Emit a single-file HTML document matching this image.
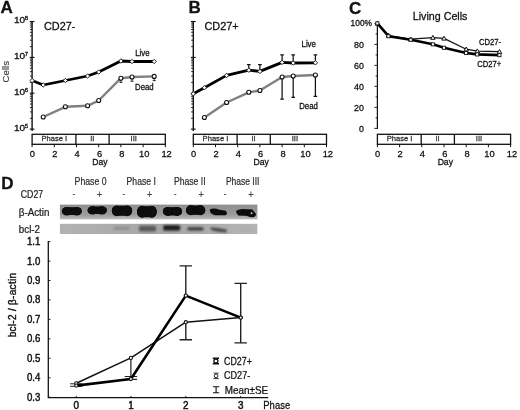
<!DOCTYPE html><html><head><meta charset="utf-8"><title>Figure</title>
<style>html,body{margin:0;padding:0;background:#fff}svg{display:block}text{font-family:"Liberation Sans",sans-serif}</style></head><body>
<svg width="520" height="410" viewBox="0 0 520 410">
<defs><filter id="b1" x="-20%" y="-50%" width="140%" height="200%"><feGaussianBlur stdDeviation="0.75"/></filter><filter id="b2" x="-20%" y="-50%" width="140%" height="200%"><feGaussianBlur stdDeviation="1.0"/></filter></defs>
<rect width="520" height="410" fill="#fff"/>
<text x="0.5" y="13.2" font-size="17" font-weight="bold" fill="#111" stroke="#111" stroke-width="0.28">A</text>
<text x="44" y="29.6" font-size="10.9" fill="#111" stroke="#111" stroke-width="0.28">CD27-</text>
<g stroke="#111" fill="none">
<line x1="32.1" y1="21" x2="32.1" y2="131" stroke-width="1.4"/>
<line x1="29.700000000000003" y1="129.1" x2="34.5" y2="129.1" stroke-width="1.1"/>
<line x1="29.900000000000002" y1="118.3" x2="32.1" y2="118.3" stroke-width="0.85"/>
<line x1="29.900000000000002" y1="111.9" x2="32.1" y2="111.9" stroke-width="0.85"/>
<line x1="29.900000000000002" y1="107.5" x2="32.1" y2="107.5" stroke-width="0.85"/>
<line x1="29.900000000000002" y1="104.0" x2="32.1" y2="104.0" stroke-width="0.85"/>
<line x1="29.900000000000002" y1="101.2" x2="32.1" y2="101.2" stroke-width="0.85"/>
<line x1="29.900000000000002" y1="98.8" x2="32.1" y2="98.8" stroke-width="0.85"/>
<line x1="29.900000000000002" y1="96.7" x2="32.1" y2="96.7" stroke-width="0.85"/>
<line x1="29.900000000000002" y1="94.8" x2="32.1" y2="94.8" stroke-width="0.85"/>
<line x1="29.700000000000003" y1="93.2" x2="34.5" y2="93.2" stroke-width="1.1"/>
<line x1="29.900000000000002" y1="82.4" x2="32.1" y2="82.4" stroke-width="0.85"/>
<line x1="29.900000000000002" y1="76.1" x2="32.1" y2="76.1" stroke-width="0.85"/>
<line x1="29.900000000000002" y1="71.6" x2="32.1" y2="71.6" stroke-width="0.85"/>
<line x1="29.900000000000002" y1="68.1" x2="32.1" y2="68.1" stroke-width="0.85"/>
<line x1="29.900000000000002" y1="65.3" x2="32.1" y2="65.3" stroke-width="0.85"/>
<line x1="29.900000000000002" y1="62.9" x2="32.1" y2="62.9" stroke-width="0.85"/>
<line x1="29.900000000000002" y1="60.8" x2="32.1" y2="60.8" stroke-width="0.85"/>
<line x1="29.900000000000002" y1="59.0" x2="32.1" y2="59.0" stroke-width="0.85"/>
<line x1="29.700000000000003" y1="57.4" x2="34.5" y2="57.4" stroke-width="1.1"/>
<line x1="29.900000000000002" y1="46.6" x2="32.1" y2="46.6" stroke-width="0.85"/>
<line x1="29.900000000000002" y1="40.2" x2="32.1" y2="40.2" stroke-width="0.85"/>
<line x1="29.900000000000002" y1="35.8" x2="32.1" y2="35.8" stroke-width="0.85"/>
<line x1="29.900000000000002" y1="32.3" x2="32.1" y2="32.3" stroke-width="0.85"/>
<line x1="29.900000000000002" y1="29.5" x2="32.1" y2="29.5" stroke-width="0.85"/>
<line x1="29.900000000000002" y1="27.1" x2="32.1" y2="27.1" stroke-width="0.85"/>
<line x1="29.900000000000002" y1="25.0" x2="32.1" y2="25.0" stroke-width="0.85"/>
<line x1="29.900000000000002" y1="23.1" x2="32.1" y2="23.1" stroke-width="0.85"/>
<line x1="29.700000000000003" y1="21.5" x2="34.5" y2="21.5" stroke-width="1.1"/>
</g>
<text transform="translate(25.200000000000003,131.0) scale(1.07,1)" font-size="9.4" text-anchor="end" fill="#111" stroke="#111" stroke-width="0.32">10</text>
<text x="24.8" y="127.8" font-size="6" text-anchor="start" fill="#111" stroke="#111" stroke-width="0.28">5</text>
<text transform="translate(25.200000000000003,95.1) scale(1.07,1)" font-size="9.4" text-anchor="end" fill="#111" stroke="#111" stroke-width="0.32">10</text>
<text x="24.8" y="91.9" font-size="6" text-anchor="start" fill="#111" stroke="#111" stroke-width="0.28">6</text>
<text transform="translate(25.200000000000003,59.2) scale(1.07,1)" font-size="9.4" text-anchor="end" fill="#111" stroke="#111" stroke-width="0.32">10</text>
<text x="24.8" y="56.1" font-size="6" text-anchor="start" fill="#111" stroke="#111" stroke-width="0.28">7</text>
<text transform="translate(25.200000000000003,23.4) scale(1.07,1)" font-size="9.4" text-anchor="end" fill="#111" stroke="#111" stroke-width="0.32">10</text>
<text x="24.8" y="20.2" font-size="6" text-anchor="start" fill="#111" stroke="#111" stroke-width="0.28">8</text>
<text transform="translate(8.6,71.7) rotate(-90)" font-size="9.7" text-anchor="middle" fill="#3a3a3a" stroke="#3a3a3a" stroke-width="0.12">Cells</text>
<path d="M120.9 78.2L120.9 82.4M119.4 82.4L122.4 82.4" stroke="#111" stroke-width="0.9" fill="none"/>
<path d="M132.0 77.0L132.0 81.2M130.5 81.2L133.5 81.2" stroke="#111" stroke-width="0.9" fill="none"/>
<path d="M154.2 76.4L154.2 80.6M152.7 80.6L155.7 80.6" stroke="#111" stroke-width="0.9" fill="none"/>
<polyline points="43.2,117.0 65.4,106.8 87.6,105.8 98.7,100.5 120.9,78.2 132.0,77.0 154.2,76.4" fill="none" stroke="#808080" stroke-width="2.4" stroke-linejoin="round"/>
<circle cx="43.2" cy="117.0" r="2.0" fill="#fff" stroke="#111" stroke-width="1.1"/>
<circle cx="65.4" cy="106.8" r="2.0" fill="#fff" stroke="#111" stroke-width="1.1"/>
<circle cx="87.6" cy="105.8" r="2.0" fill="#fff" stroke="#111" stroke-width="1.1"/>
<circle cx="98.7" cy="100.5" r="2.0" fill="#fff" stroke="#111" stroke-width="1.1"/>
<circle cx="120.9" cy="78.2" r="2.0" fill="#fff" stroke="#111" stroke-width="1.1"/>
<circle cx="132.0" cy="77.0" r="2.0" fill="#fff" stroke="#111" stroke-width="1.1"/>
<circle cx="154.2" cy="76.4" r="2.0" fill="#fff" stroke="#111" stroke-width="1.1"/>
<polyline points="32.1,80.5 43.2,85.0 65.4,80.5 87.6,76.0 98.7,72.0 120.9,61.0 132.0,61.5 154.2,61.5" fill="none" stroke="#000" stroke-width="2.8" stroke-linejoin="round"/>
<path d="M32.1 78.3L34.3 80.5L32.1 82.7L29.9 80.5Z" fill="#fff" stroke="#111" stroke-width="0.9"/>
<path d="M43.2 82.8L45.4 85.0L43.2 87.2L41.0 85.0Z" fill="#fff" stroke="#111" stroke-width="0.9"/>
<path d="M65.4 78.3L67.6 80.5L65.4 82.7L63.2 80.5Z" fill="#fff" stroke="#111" stroke-width="0.9"/>
<path d="M87.6 73.8L89.8 76.0L87.6 78.2L85.4 76.0Z" fill="#fff" stroke="#111" stroke-width="0.9"/>
<path d="M98.7 69.8L100.9 72.0L98.7 74.2L96.5 72.0Z" fill="#fff" stroke="#111" stroke-width="0.9"/>
<path d="M120.9 58.8L123.1 61.0L120.9 63.2L118.7 61.0Z" fill="#fff" stroke="#111" stroke-width="0.9"/>
<path d="M132.0 59.3L134.2 61.5L132.0 63.7L129.8 61.5Z" fill="#fff" stroke="#111" stroke-width="0.9"/>
<path d="M154.2 59.3L156.4 61.5L154.2 63.7L152.0 61.5Z" fill="#fff" stroke="#111" stroke-width="0.9"/>
<text transform="translate(135.2,56.3) scale(0.95,1)" font-size="8.3" text-anchor="start" fill="#111" stroke="#111" stroke-width="0.28">Live</text>
<text transform="translate(135,89.6) scale(0.94,1)" font-size="8.3" text-anchor="start" fill="#111" stroke="#111" stroke-width="0.28">Dead</text>
<g stroke="#111" stroke-width="1.3" fill="none">
<rect x="32.1" y="134.3" width="133.2" height="10" fill="#fff"/>
<line x1="75.9" y1="134.3" x2="75.9" y2="144.3"/>
<line x1="109.1" y1="134.3" x2="109.1" y2="144.3"/>
<line x1="32.1" y1="144.3" x2="32.1" y2="147.2" stroke-width="1"/>
<line x1="54.3" y1="144.3" x2="54.3" y2="147.2" stroke-width="1"/>
<line x1="76.5" y1="144.3" x2="76.5" y2="147.2" stroke-width="1"/>
<line x1="98.7" y1="144.3" x2="98.7" y2="147.2" stroke-width="1"/>
<line x1="120.9" y1="144.3" x2="120.9" y2="147.2" stroke-width="1"/>
<line x1="143.1" y1="144.3" x2="143.1" y2="147.2" stroke-width="1"/>
<line x1="165.3" y1="144.3" x2="165.3" y2="147.2" stroke-width="1"/>
</g>
<text x="32.4" y="157" font-size="9.3" text-anchor="middle" fill="#111" stroke="#111" stroke-width="0.28">0</text>
<text x="54.8" y="157" font-size="9.3" text-anchor="middle" fill="#111" stroke="#111" stroke-width="0.28">2</text>
<text x="77.1" y="157" font-size="9.3" text-anchor="middle" fill="#111" stroke="#111" stroke-width="0.28">4</text>
<text x="99.5" y="157" font-size="9.3" text-anchor="middle" fill="#111" stroke="#111" stroke-width="0.28">6</text>
<text x="121.8" y="157" font-size="9.3" text-anchor="middle" fill="#111" stroke="#111" stroke-width="0.28">8</text>
<text x="144.2" y="157" font-size="9.3" text-anchor="middle" fill="#111" stroke="#111" stroke-width="0.28">10</text>
<text x="166.6" y="157" font-size="9.3" text-anchor="middle" fill="#111" stroke="#111" stroke-width="0.28">12</text>
<text x="54.3" y="141.4" font-size="7.6" text-anchor="middle" fill="#333" stroke="#333" stroke-width="0.28">Phase I</text>
<text x="92.3" y="141.4" font-size="7.6" text-anchor="middle" fill="#333" stroke="#333" stroke-width="0.28">II</text>
<text x="133.7" y="141.4" font-size="7.6" text-anchor="middle" fill="#333" stroke="#333" stroke-width="0.28">III</text>
<text transform="translate(100.0,164.6) scale(0.93,1)" font-size="9.3" text-anchor="middle" fill="#111" stroke="#111" stroke-width="0.3">Day</text>
<text x="188.5" y="13.2" font-size="17" font-weight="bold" fill="#111" stroke="#111" stroke-width="0.28">B</text>
<text x="204.5" y="29.6" font-size="10.9" fill="#111" stroke="#111" stroke-width="0.28">CD27+</text>
<g stroke="#111" fill="none">
<line x1="193.3" y1="21" x2="193.3" y2="131" stroke-width="1.4"/>
<line x1="190.9" y1="129.1" x2="195.70000000000002" y2="129.1" stroke-width="1.1"/>
<line x1="191.10000000000002" y1="118.3" x2="193.3" y2="118.3" stroke-width="0.85"/>
<line x1="191.10000000000002" y1="111.9" x2="193.3" y2="111.9" stroke-width="0.85"/>
<line x1="191.10000000000002" y1="107.5" x2="193.3" y2="107.5" stroke-width="0.85"/>
<line x1="191.10000000000002" y1="104.0" x2="193.3" y2="104.0" stroke-width="0.85"/>
<line x1="191.10000000000002" y1="101.2" x2="193.3" y2="101.2" stroke-width="0.85"/>
<line x1="191.10000000000002" y1="98.8" x2="193.3" y2="98.8" stroke-width="0.85"/>
<line x1="191.10000000000002" y1="96.7" x2="193.3" y2="96.7" stroke-width="0.85"/>
<line x1="191.10000000000002" y1="94.8" x2="193.3" y2="94.8" stroke-width="0.85"/>
<line x1="190.9" y1="93.2" x2="195.70000000000002" y2="93.2" stroke-width="1.1"/>
<line x1="191.10000000000002" y1="82.4" x2="193.3" y2="82.4" stroke-width="0.85"/>
<line x1="191.10000000000002" y1="76.1" x2="193.3" y2="76.1" stroke-width="0.85"/>
<line x1="191.10000000000002" y1="71.6" x2="193.3" y2="71.6" stroke-width="0.85"/>
<line x1="191.10000000000002" y1="68.1" x2="193.3" y2="68.1" stroke-width="0.85"/>
<line x1="191.10000000000002" y1="65.3" x2="193.3" y2="65.3" stroke-width="0.85"/>
<line x1="191.10000000000002" y1="62.9" x2="193.3" y2="62.9" stroke-width="0.85"/>
<line x1="191.10000000000002" y1="60.8" x2="193.3" y2="60.8" stroke-width="0.85"/>
<line x1="191.10000000000002" y1="59.0" x2="193.3" y2="59.0" stroke-width="0.85"/>
<line x1="190.9" y1="57.4" x2="195.70000000000002" y2="57.4" stroke-width="1.1"/>
<line x1="191.10000000000002" y1="46.6" x2="193.3" y2="46.6" stroke-width="0.85"/>
<line x1="191.10000000000002" y1="40.2" x2="193.3" y2="40.2" stroke-width="0.85"/>
<line x1="191.10000000000002" y1="35.8" x2="193.3" y2="35.8" stroke-width="0.85"/>
<line x1="191.10000000000002" y1="32.3" x2="193.3" y2="32.3" stroke-width="0.85"/>
<line x1="191.10000000000002" y1="29.5" x2="193.3" y2="29.5" stroke-width="0.85"/>
<line x1="191.10000000000002" y1="27.1" x2="193.3" y2="27.1" stroke-width="0.85"/>
<line x1="191.10000000000002" y1="25.0" x2="193.3" y2="25.0" stroke-width="0.85"/>
<line x1="191.10000000000002" y1="23.1" x2="193.3" y2="23.1" stroke-width="0.85"/>
<line x1="190.9" y1="21.5" x2="195.70000000000002" y2="21.5" stroke-width="1.1"/>
</g>
<path d="M248.8 70.2L248.8 64.6M247.0 64.6L250.6 64.6" stroke="#111" stroke-width="1.25" fill="none"/>
<path d="M259.9 71.4L259.9 64.6M258.1 64.6L261.7 64.6" stroke="#111" stroke-width="1.25" fill="none"/>
<path d="M282.1 62.4L282.1 54.8M280.3 54.8L283.9 54.8" stroke="#111" stroke-width="1.25" fill="none"/>
<path d="M293.2 63.0L293.2 54.8M291.4 54.8L295.0 54.8" stroke="#111" stroke-width="1.25" fill="none"/>
<path d="M315.4 62.8L315.4 54.8M313.6 54.8L317.2 54.8" stroke="#111" stroke-width="1.25" fill="none"/>
<path d="M282.1 77.0L282.1 99.0M280.3 99.0L283.9 99.0" stroke="#111" stroke-width="1.25" fill="none"/>
<path d="M293.2 76.0L293.2 97.4M291.4 97.4L295.0 97.4" stroke="#111" stroke-width="1.25" fill="none"/>
<path d="M315.4 75.0L315.4 96.3M313.6 96.3L317.2 96.3" stroke="#111" stroke-width="1.25" fill="none"/>
<polyline points="204.4,117.5 226.6,102.5 248.8,92.3 259.9,90.5 282.1,77.0 293.2,76.0 315.4,75.0" fill="none" stroke="#808080" stroke-width="2.4" stroke-linejoin="round"/>
<circle cx="204.4" cy="117.5" r="2.0" fill="#fff" stroke="#111" stroke-width="1.1"/>
<circle cx="226.6" cy="102.5" r="2.0" fill="#fff" stroke="#111" stroke-width="1.1"/>
<circle cx="248.8" cy="92.3" r="2.0" fill="#fff" stroke="#111" stroke-width="1.1"/>
<circle cx="259.9" cy="90.5" r="2.0" fill="#fff" stroke="#111" stroke-width="1.1"/>
<circle cx="282.1" cy="77.0" r="2.0" fill="#fff" stroke="#111" stroke-width="1.1"/>
<circle cx="293.2" cy="76.0" r="2.0" fill="#fff" stroke="#111" stroke-width="1.1"/>
<circle cx="315.4" cy="75.0" r="2.0" fill="#fff" stroke="#111" stroke-width="1.1"/>
<polyline points="193.3,93.8 204.4,87.7 226.6,75.4 248.8,70.2 259.9,71.4 282.1,62.4 293.2,63.0 315.4,62.8" fill="none" stroke="#000" stroke-width="2.8" stroke-linejoin="round"/>
<path d="M193.3 91.6L195.5 93.8L193.3 96.0L191.1 93.8Z" fill="#fff" stroke="#111" stroke-width="0.9"/>
<path d="M204.4 85.5L206.6 87.7L204.4 89.9L202.2 87.7Z" fill="#fff" stroke="#111" stroke-width="0.9"/>
<path d="M226.6 73.2L228.8 75.4L226.6 77.6L224.4 75.4Z" fill="#fff" stroke="#111" stroke-width="0.9"/>
<path d="M248.8 68.0L251.0 70.2L248.8 72.4L246.6 70.2Z" fill="#fff" stroke="#111" stroke-width="0.9"/>
<path d="M259.9 69.2L262.1 71.4L259.9 73.6L257.7 71.4Z" fill="#fff" stroke="#111" stroke-width="0.9"/>
<path d="M282.1 60.2L284.3 62.4L282.1 64.6L279.9 62.4Z" fill="#fff" stroke="#111" stroke-width="0.9"/>
<path d="M293.2 60.8L295.4 63.0L293.2 65.2L291.0 63.0Z" fill="#fff" stroke="#111" stroke-width="0.9"/>
<path d="M315.4 60.6L317.6 62.8L315.4 65.0L313.2 62.8Z" fill="#fff" stroke="#111" stroke-width="0.9"/>
<text transform="translate(301.5,47.4) scale(0.95,1)" font-size="8.3" text-anchor="start" fill="#111" stroke="#111" stroke-width="0.28">Live</text>
<text transform="translate(299.2,109.2) scale(0.94,1)" font-size="8.3" text-anchor="start" fill="#111" stroke="#111" stroke-width="0.28">Dead</text>
<g stroke="#111" stroke-width="1.3" fill="none">
<rect x="193.3" y="134.3" width="133.2" height="10" fill="#fff"/>
<line x1="237.1" y1="134.3" x2="237.1" y2="144.3"/>
<line x1="270.3" y1="134.3" x2="270.3" y2="144.3"/>
<line x1="193.3" y1="144.3" x2="193.3" y2="147.2" stroke-width="1"/>
<line x1="215.5" y1="144.3" x2="215.5" y2="147.2" stroke-width="1"/>
<line x1="237.7" y1="144.3" x2="237.7" y2="147.2" stroke-width="1"/>
<line x1="259.9" y1="144.3" x2="259.9" y2="147.2" stroke-width="1"/>
<line x1="282.1" y1="144.3" x2="282.1" y2="147.2" stroke-width="1"/>
<line x1="304.3" y1="144.3" x2="304.3" y2="147.2" stroke-width="1"/>
<line x1="326.5" y1="144.3" x2="326.5" y2="147.2" stroke-width="1"/>
</g>
<text x="193.6" y="157" font-size="9.3" text-anchor="middle" fill="#111" stroke="#111" stroke-width="0.28">0</text>
<text x="216.0" y="157" font-size="9.3" text-anchor="middle" fill="#111" stroke="#111" stroke-width="0.28">2</text>
<text x="238.3" y="157" font-size="9.3" text-anchor="middle" fill="#111" stroke="#111" stroke-width="0.28">4</text>
<text x="260.7" y="157" font-size="9.3" text-anchor="middle" fill="#111" stroke="#111" stroke-width="0.28">6</text>
<text x="283.0" y="157" font-size="9.3" text-anchor="middle" fill="#111" stroke="#111" stroke-width="0.28">8</text>
<text x="305.4" y="157" font-size="9.3" text-anchor="middle" fill="#111" stroke="#111" stroke-width="0.28">10</text>
<text x="327.8" y="157" font-size="9.3" text-anchor="middle" fill="#111" stroke="#111" stroke-width="0.28">12</text>
<text x="215.5" y="141.4" font-size="7.6" text-anchor="middle" fill="#333" stroke="#333" stroke-width="0.28">Phase I</text>
<text x="253.5" y="141.4" font-size="7.6" text-anchor="middle" fill="#333" stroke="#333" stroke-width="0.28">II</text>
<text x="294.9" y="141.4" font-size="7.6" text-anchor="middle" fill="#333" stroke="#333" stroke-width="0.28">III</text>
<text transform="translate(261.2,164.6) scale(0.93,1)" font-size="9.3" text-anchor="middle" fill="#111" stroke="#111" stroke-width="0.3">Day</text>
<text x="349" y="13.6" font-size="17" font-weight="bold" fill="#111" stroke="#111" stroke-width="0.28">C</text>
<text x="412.8" y="20.2" font-size="10.7" fill="#111" stroke="#111" stroke-width="0.28">Living Cells</text>
<g stroke="#111" fill="none">
<line x1="377.4" y1="23.4" x2="377.4" y2="129" stroke-width="1.25"/>
<line x1="374.4" y1="128.4" x2="377.4" y2="128.4" stroke-width="0.9"/>
<line x1="375.59999999999997" y1="117.9" x2="377.4" y2="117.9" stroke-width="0.9"/>
<line x1="374.4" y1="107.4" x2="377.4" y2="107.4" stroke-width="0.9"/>
<line x1="375.59999999999997" y1="96.9" x2="377.4" y2="96.9" stroke-width="0.9"/>
<line x1="374.4" y1="86.4" x2="377.4" y2="86.4" stroke-width="0.9"/>
<line x1="375.59999999999997" y1="75.9" x2="377.4" y2="75.9" stroke-width="0.9"/>
<line x1="374.4" y1="65.4" x2="377.4" y2="65.4" stroke-width="0.9"/>
<line x1="375.59999999999997" y1="54.9" x2="377.4" y2="54.9" stroke-width="0.9"/>
<line x1="374.4" y1="44.4" x2="377.4" y2="44.4" stroke-width="0.9"/>
<line x1="375.59999999999997" y1="33.9" x2="377.4" y2="33.9" stroke-width="0.9"/>
<line x1="374.4" y1="23.4" x2="377.4" y2="23.4" stroke-width="0.9"/>
</g>
<text x="363.8" y="131.5" font-size="8.8" text-anchor="end" fill="#111" stroke="#111" stroke-width="0.28">0</text>
<text x="363.8" y="110.5" font-size="8.8" text-anchor="end" fill="#111" stroke="#111" stroke-width="0.28">20</text>
<text x="363.8" y="89.5" font-size="8.8" text-anchor="end" fill="#111" stroke="#111" stroke-width="0.28">40</text>
<text x="363.8" y="68.5" font-size="8.8" text-anchor="end" fill="#111" stroke="#111" stroke-width="0.28">60</text>
<text x="363.8" y="47.5" font-size="8.8" text-anchor="end" fill="#111" stroke="#111" stroke-width="0.28">80</text>
<text x="350.6" y="26.3" font-size="8.4" fill="#111" stroke="#111" stroke-width="0.28">100%</text>
<polyline points="377.4,23.4 388.5,35.5 410.7,39.2 432.9,37.6 444.0,38.4 466.2,49.2 477.3,51.1 499.5,51.7" fill="none" stroke="#111" stroke-width="1.25" stroke-linejoin="round"/>
<path d="M377.4 21.2L379.6 25.1L375.2 25.1Z" fill="#fff" stroke="#111" stroke-width="1"/>
<path d="M388.5 33.3L390.7 37.2L386.3 37.2Z" fill="#fff" stroke="#111" stroke-width="1"/>
<path d="M410.7 37.0L412.9 40.9L408.5 40.9Z" fill="#fff" stroke="#111" stroke-width="1"/>
<path d="M432.9 35.4L435.1 39.3L430.7 39.3Z" fill="#fff" stroke="#111" stroke-width="1"/>
<path d="M444.0 36.2L446.2 40.1L441.8 40.1Z" fill="#fff" stroke="#111" stroke-width="1"/>
<path d="M466.2 47.0L468.4 50.9L464.0 50.9Z" fill="#fff" stroke="#111" stroke-width="1"/>
<path d="M477.3 48.9L479.5 52.8L475.1 52.8Z" fill="#fff" stroke="#111" stroke-width="1"/>
<path d="M499.5 49.5L501.7 53.4L497.3 53.4Z" fill="#fff" stroke="#111" stroke-width="1"/>
<polyline points="377.4,23.4 388.5,36.2 410.7,39.7 432.9,44.3 444.0,47.7 466.2,53.0 477.3,54.4 499.5,55.1" fill="none" stroke="#000" stroke-width="2.6" stroke-linejoin="round"/>
<rect x="375.8" y="21.8" width="3.1" height="3.1" fill="#fff" stroke="#111" stroke-width="0.9"/>
<rect x="386.9" y="34.7" width="3.1" height="3.1" fill="#fff" stroke="#111" stroke-width="0.9"/>
<rect x="409.1" y="38.2" width="3.1" height="3.1" fill="#fff" stroke="#111" stroke-width="0.9"/>
<rect x="431.3" y="42.8" width="3.1" height="3.1" fill="#fff" stroke="#111" stroke-width="0.9"/>
<rect x="442.4" y="46.2" width="3.1" height="3.1" fill="#fff" stroke="#111" stroke-width="0.9"/>
<rect x="464.6" y="51.5" width="3.1" height="3.1" fill="#fff" stroke="#111" stroke-width="0.9"/>
<rect x="475.7" y="52.9" width="3.1" height="3.1" fill="#fff" stroke="#111" stroke-width="0.9"/>
<rect x="497.9" y="53.6" width="3.1" height="3.1" fill="#fff" stroke="#111" stroke-width="0.9"/>
<text transform="translate(479,45.1) scale(0.92,1)" font-size="8.3" text-anchor="start" fill="#111" stroke="#111" stroke-width="0.28">CD27-</text>
<text transform="translate(477.2,66.9) scale(0.92,1)" font-size="8.3" text-anchor="start" fill="#111" stroke="#111" stroke-width="0.28">CD27+</text>
<g stroke="#111" stroke-width="1.3" fill="none">
<rect x="377.4" y="134.3" width="133.2" height="10" fill="#fff"/>
<line x1="421.2" y1="134.3" x2="421.2" y2="144.3"/>
<line x1="454.4" y1="134.3" x2="454.4" y2="144.3"/>
<line x1="377.4" y1="144.3" x2="377.4" y2="147.2" stroke-width="1"/>
<line x1="399.6" y1="144.3" x2="399.6" y2="147.2" stroke-width="1"/>
<line x1="421.8" y1="144.3" x2="421.8" y2="147.2" stroke-width="1"/>
<line x1="444.0" y1="144.3" x2="444.0" y2="147.2" stroke-width="1"/>
<line x1="466.2" y1="144.3" x2="466.2" y2="147.2" stroke-width="1"/>
<line x1="488.4" y1="144.3" x2="488.4" y2="147.2" stroke-width="1"/>
<line x1="510.6" y1="144.3" x2="510.6" y2="147.2" stroke-width="1"/>
</g>
<text x="377.7" y="157" font-size="9.3" text-anchor="middle" fill="#111" stroke="#111" stroke-width="0.28">0</text>
<text x="400.1" y="157" font-size="9.3" text-anchor="middle" fill="#111" stroke="#111" stroke-width="0.28">2</text>
<text x="422.4" y="157" font-size="9.3" text-anchor="middle" fill="#111" stroke="#111" stroke-width="0.28">4</text>
<text x="444.8" y="157" font-size="9.3" text-anchor="middle" fill="#111" stroke="#111" stroke-width="0.28">6</text>
<text x="467.1" y="157" font-size="9.3" text-anchor="middle" fill="#111" stroke="#111" stroke-width="0.28">8</text>
<text x="489.5" y="157" font-size="9.3" text-anchor="middle" fill="#111" stroke="#111" stroke-width="0.28">10</text>
<text x="511.9" y="157" font-size="9.3" text-anchor="middle" fill="#111" stroke="#111" stroke-width="0.28">12</text>
<text x="399.6" y="141.4" font-size="7.6" text-anchor="middle" fill="#333" stroke="#333" stroke-width="0.28">Phase I</text>
<text x="437.6" y="141.4" font-size="7.6" text-anchor="middle" fill="#333" stroke="#333" stroke-width="0.28">II</text>
<text x="479.0" y="141.4" font-size="7.6" text-anchor="middle" fill="#333" stroke="#333" stroke-width="0.28">III</text>
<text transform="translate(445.3,164.6) scale(0.93,1)" font-size="9.3" text-anchor="middle" fill="#111" stroke="#111" stroke-width="0.3">Day</text>
<text x="1.2" y="189" font-size="17" font-weight="bold" fill="#111" stroke="#111" stroke-width="0.28">D</text>
<text transform="translate(74.6,185.3) scale(0.816,1)" font-size="10.7" text-anchor="start" fill="#2a2a2a" stroke="#2a2a2a" stroke-width="0.2">Phase 0</text>
<text transform="translate(126.6,185.3) scale(0.807,1)" font-size="10.7" text-anchor="start" fill="#2a2a2a" stroke="#2a2a2a" stroke-width="0.2">Phase I</text>
<text transform="translate(173.9,185.3) scale(0.807,1)" font-size="10.7" text-anchor="start" fill="#2a2a2a" stroke="#2a2a2a" stroke-width="0.2">Phase II</text>
<text transform="translate(225.9,185.3) scale(0.794,1)" font-size="10.7" text-anchor="start" fill="#2a2a2a" stroke="#2a2a2a" stroke-width="0.2">Phase III</text>
<text transform="translate(20.8,197.8) scale(0.825,1)" font-size="10.6" text-anchor="start" fill="#222" stroke="#222" stroke-width="0.25">CD27</text>
<text transform="translate(73.8,196.9) scale(0.91,1)" font-size="9" text-anchor="middle" fill="#444" stroke="#444" stroke-width="0.15">-</text>
<text transform="translate(99.6,198.1) scale(0.91,1)" font-size="10" text-anchor="middle" fill="#444" stroke="#444" stroke-width="0.15">+</text>
<text transform="translate(123.8,196.9) scale(0.91,1)" font-size="9" text-anchor="middle" fill="#444" stroke="#444" stroke-width="0.15">-</text>
<text transform="translate(149.7,198.1) scale(0.91,1)" font-size="10" text-anchor="middle" fill="#444" stroke="#444" stroke-width="0.15">+</text>
<text transform="translate(175,196.9) scale(0.91,1)" font-size="9" text-anchor="middle" fill="#444" stroke="#444" stroke-width="0.15">-</text>
<text transform="translate(201.2,198.1) scale(0.91,1)" font-size="10" text-anchor="middle" fill="#444" stroke="#444" stroke-width="0.15">+</text>
<text transform="translate(225,196.9) scale(0.91,1)" font-size="9" text-anchor="middle" fill="#444" stroke="#444" stroke-width="0.15">-</text>
<text transform="translate(250.8,198.1) scale(0.91,1)" font-size="10" text-anchor="middle" fill="#444" stroke="#444" stroke-width="0.15">+</text>
<text transform="translate(18.8,215.6) scale(0.98,1)" font-size="10" text-anchor="start" fill="#222" stroke="#222" stroke-width="0.25">β-Actin</text>
<text transform="translate(18.8,232.5) scale(0.98,1)" font-size="10" text-anchor="start" fill="#222" stroke="#222" stroke-width="0.25">bcl-2</text>
<defs><linearGradient id="g1" x1="0" y1="0" x2="0" y2="1"><stop offset="0" stop-color="#8e8e8e"/><stop offset="0.7" stop-color="#9c9c9c"/><stop offset="1" stop-color="#bdbdbd"/></linearGradient><linearGradient id="g2" x1="0" y1="0" x2="1" y2="0"><stop offset="0" stop-color="#b2b2b2"/><stop offset="0.5" stop-color="#a6a6a6"/><stop offset="1" stop-color="#b4b4b4"/></linearGradient></defs>
<rect x="59.9" y="204.6" width="197.5" height="14.8" fill="url(#g1)"/>
<g fill="#080808" filter="url(#b1)">
<rect x="62.0" y="207.2" width="19.7" height="7.8" rx="4.5" ry="3.9"/>
<ellipse cx="66.9" cy="211.2" rx="5" ry="4.3"/><ellipse cx="76.8" cy="211.2" rx="5" ry="4.3"/>
<rect x="87.7" y="206.6" width="19.0" height="7.3" rx="4.5" ry="3.7"/>
<ellipse cx="92.6" cy="210.3" rx="5" ry="4.1"/><ellipse cx="101.8" cy="210.3" rx="5" ry="4.1"/>
<rect x="111.9" y="205.8" width="20.2" height="10.0" rx="4.5" ry="5.0"/>
<ellipse cx="116.8" cy="210.8" rx="5" ry="5.4"/><ellipse cx="127.2" cy="210.8" rx="5" ry="5.4"/>
<rect x="137.1" y="206.2" width="19.6" height="11.1" rx="4.5" ry="5.5"/>
<ellipse cx="142.0" cy="211.8" rx="5" ry="6.0"/><ellipse cx="151.8" cy="211.8" rx="5" ry="6.0"/>
<rect x="163.0" y="207.3" width="19.0" height="8.1" rx="4.5" ry="4.0"/>
<ellipse cx="167.9" cy="211.4" rx="5" ry="4.5"/><ellipse cx="177.1" cy="211.4" rx="5" ry="4.5"/>
<rect x="186.0" y="205.6" width="19.2" height="9.1" rx="4.5" ry="4.5"/>
<ellipse cx="190.9" cy="210.2" rx="5" ry="5.0"/><ellipse cx="200.3" cy="210.2" rx="5" ry="5.0"/>
<path d="M209.8 209.2 Q214 207.4 219.5 209.8 L225.8 210.8 Q228 213.4 225.8 215.3 L215 215.2 Q209.2 213.8 209.8 209.2Z"/>
<path d="M236.2 210.8 Q240 208.4 246 209.2 L252.4 209.6 L256 214 Q255.8 217.6 251 217.2 L246 215.8 L238.4 215.4 Q235.6 213.4 236.2 210.8Z"/>
</g>
<circle cx="251.6" cy="213.2" r="0.9" fill="#ddd" filter="url(#b1)"/>
<rect x="59.9" y="223.8" width="197.5" height="10.2" fill="url(#g2)"/>
<g filter="url(#b2)">
<rect x="113.6" y="226.6" width="16.1" height="3.4" rx="1.5" fill="#929292"/>
<rect x="139" y="225.8" width="17.0" height="5.6" rx="1.5" fill="#5a5a5a"/>
<rect x="163.2" y="225.2" width="17.0" height="5.4" rx="1.5" fill="#1c1c1c"/>
<rect x="187.4" y="227.2" width="16.2" height="3.4" rx="1.5" fill="#3c3c3c"/>
<rect x="240" y="228.5" width="14.0" height="2.5" rx="1.5" fill="#adadad"/>
<path d="M210.8 227.2 L218 228 L226.6 229.4 L226.6 232.4 L218 231.8 L210.8 230Z" fill="#484848"/>
</g>
<g stroke="#111" fill="none">
<path d="M48.3 241 L48.3 397.6 L268.3 397.6" stroke-width="1.3"/>
<line x1="48.3" y1="397.2" x2="50.5" y2="397.2" stroke-width="0.9"/>
<line x1="48.3" y1="377.8" x2="50.5" y2="377.8" stroke-width="0.9"/>
<line x1="48.3" y1="358.3" x2="50.5" y2="358.3" stroke-width="0.9"/>
<line x1="48.3" y1="338.9" x2="50.5" y2="338.9" stroke-width="0.9"/>
<line x1="48.3" y1="319.4" x2="50.5" y2="319.4" stroke-width="0.9"/>
<line x1="48.3" y1="299.9" x2="50.5" y2="299.9" stroke-width="0.9"/>
<line x1="48.3" y1="280.5" x2="50.5" y2="280.5" stroke-width="0.9"/>
<line x1="48.3" y1="261.1" x2="50.5" y2="261.1" stroke-width="0.9"/>
<line x1="48.3" y1="241.6" x2="50.5" y2="241.6" stroke-width="0.9"/>
<line x1="76.3" y1="397.6" x2="76.3" y2="395.9" stroke-width="0.9"/>
<line x1="130.9" y1="397.6" x2="130.9" y2="395.9" stroke-width="0.9"/>
<line x1="185.8" y1="397.6" x2="185.8" y2="395.9" stroke-width="0.9"/>
<line x1="240.7" y1="397.6" x2="240.7" y2="395.9" stroke-width="0.9"/>
</g>
<text transform="translate(40.3,400.7) scale(0.9,1)" font-size="10.7" text-anchor="end" fill="#111" stroke="#111" stroke-width="0.45">0.3</text>
<text transform="translate(40.3,381.2) scale(0.9,1)" font-size="10.7" text-anchor="end" fill="#111" stroke="#111" stroke-width="0.45">0.4</text>
<text transform="translate(40.3,361.8) scale(0.9,1)" font-size="10.7" text-anchor="end" fill="#111" stroke="#111" stroke-width="0.45">0.5</text>
<text transform="translate(40.3,342.4) scale(0.9,1)" font-size="10.7" text-anchor="end" fill="#111" stroke="#111" stroke-width="0.45">0.6</text>
<text transform="translate(40.3,322.9) scale(0.9,1)" font-size="10.7" text-anchor="end" fill="#111" stroke="#111" stroke-width="0.45">0.7</text>
<text transform="translate(40.3,303.4) scale(0.9,1)" font-size="10.7" text-anchor="end" fill="#111" stroke="#111" stroke-width="0.45">0.8</text>
<text transform="translate(40.3,284.0) scale(0.9,1)" font-size="10.7" text-anchor="end" fill="#111" stroke="#111" stroke-width="0.45">0.9</text>
<text transform="translate(40.3,264.6) scale(0.9,1)" font-size="10.7" text-anchor="end" fill="#111" stroke="#111" stroke-width="0.45">1.0</text>
<text transform="translate(40.3,245.1) scale(0.9,1)" font-size="10.7" text-anchor="end" fill="#111" stroke="#111" stroke-width="0.45">1.1</text>
<text transform="translate(76.3,408.9) scale(0.92,1)" font-size="10.8" text-anchor="middle" fill="#111" stroke="#111" stroke-width="0.5">0</text>
<text transform="translate(130.9,408.9) scale(0.92,1)" font-size="10.8" text-anchor="middle" fill="#111" stroke="#111" stroke-width="0.5">1</text>
<text transform="translate(185.8,408.9) scale(0.92,1)" font-size="10.8" text-anchor="middle" fill="#111" stroke="#111" stroke-width="0.5">2</text>
<text transform="translate(240.7,408.9) scale(0.92,1)" font-size="10.8" text-anchor="middle" fill="#111" stroke="#111" stroke-width="0.5">3</text>
<text transform="translate(263.3,408.8) scale(0.92,1)" font-size="10.3" text-anchor="start" fill="#111" stroke="#111" stroke-width="0.25">Phase</text>
<text transform="translate(16.2,305) rotate(-90) scale(1.0,1)" font-size="10" text-anchor="middle" fill="#111" stroke="#111" stroke-width="0.38" letter-spacing="0.3">bcl-2 / β-actin</text>
<path d="M185.8 295.6L185.8 265.9M179.6 265.9L192.0 265.9" stroke="#222" stroke-width="1.4" fill="none"/>
<path d="M185.8 322.2L185.8 339.8M179.6 339.8L192.0 339.8" stroke="#222" stroke-width="1.4" fill="none"/>
<path d="M240.7 317.6L240.7 283.4M234.5 283.4L246.9 283.4" stroke="#222" stroke-width="1.4" fill="none"/>
<path d="M240.7 317.6L240.7 342.9M234.5 342.9L246.9 342.9" stroke="#222" stroke-width="1.4" fill="none"/>
<path d="M130.9 357.9L130.9 379.4M124.7 379.4L137.1 379.4" stroke="#222" stroke-width="1.2" fill="none"/>
<path d="M130.9 379.0L130.9 376.5M124.7 376.5L137.1 376.5" stroke="#222" stroke-width="1.0" fill="none"/>
<path d="M76.3 383.5L76.3 383.8M70.1 383.8L82.5 383.8" stroke="#222" stroke-width="1.0" fill="none"/>
<path d="M76.3 385.6L76.3 386.3M70.1 386.3L82.5 386.3" stroke="#222" stroke-width="1.0" fill="none"/>
<polyline points="76.3,383.3 130.9,357.9 185.8,322.2 240.7,317.6" fill="none" stroke="#111" stroke-width="1.5" stroke-linejoin="round"/>
<circle cx="76.3" cy="383.3" r="1.6" fill="#fff" stroke="#111" stroke-width="1.1"/>
<circle cx="130.9" cy="357.9" r="1.6" fill="#fff" stroke="#111" stroke-width="1.1"/>
<circle cx="185.8" cy="322.2" r="1.6" fill="#fff" stroke="#111" stroke-width="1.1"/>
<circle cx="240.7" cy="317.6" r="1.6" fill="#fff" stroke="#111" stroke-width="1.1"/>
<polyline points="76.3,385.6 130.9,379.0 185.8,295.6 240.7,317.6" fill="none" stroke="#000" stroke-width="2.6" stroke-linejoin="round"/>
<circle cx="76.3" cy="385.6" r="1.6" fill="#fff" stroke="#111" stroke-width="1.1"/>
<circle cx="130.9" cy="379.0" r="1.6" fill="#fff" stroke="#111" stroke-width="1.1"/>
<circle cx="185.8" cy="295.6" r="1.6" fill="#fff" stroke="#111" stroke-width="1.1"/>
<circle cx="240.7" cy="317.6" r="1.6" fill="#fff" stroke="#111" stroke-width="1.1"/>
<g stroke="#111" fill="#fff">
<path d="M212.8 358.2H219M212.8 363.8H219" stroke-width="1.6"/><circle cx="215.9" cy="361" r="2" stroke-width="1.3"/>
<path d="M213.6 373.2H218.6M213.6 378.6H218.6" stroke-width="0.9"/><circle cx="216.1" cy="375.9" r="1.8" stroke-width="0.9"/>
<path d="M213 386.8H219.2M213 392.8H219.2M216.1 386.8V392.8" stroke-width="1.1"/>
</g>
<text transform="translate(224,364.8) scale(0.89,1)" font-size="10" text-anchor="start" fill="#111" stroke="#111" stroke-width="0.25">CD27+</text>
<text transform="translate(224,379.1) scale(0.91,1)" font-size="10" text-anchor="start" fill="#111" stroke="#111" stroke-width="0.25">CD27-</text>
<text transform="translate(224.8,393.5) scale(0.99,1)" font-size="10" text-anchor="start" fill="#111" stroke="#111" stroke-width="0.25">Mean±SE</text>
</svg></body></html>
